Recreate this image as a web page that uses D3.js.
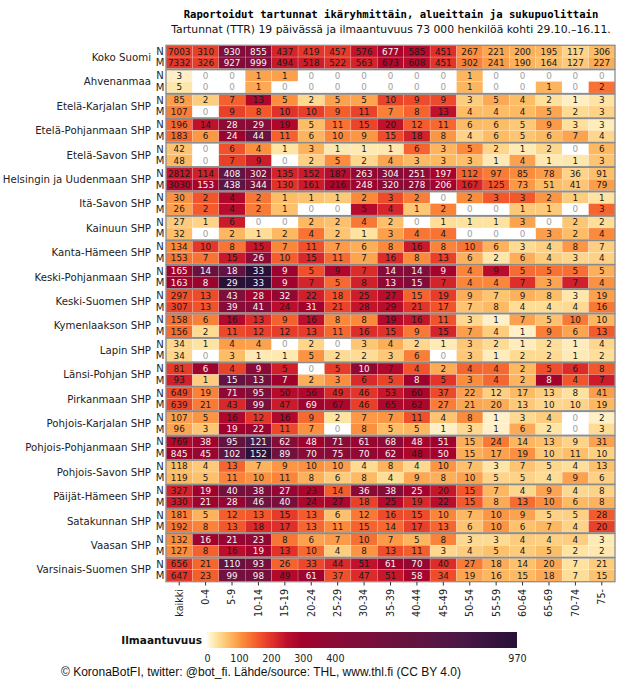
<!DOCTYPE html>
<html><head><meta charset="utf-8">
<script src="https://cdn.jsdelivr.net/npm/d3@7"></script>
<style>body{margin:0;background:#fff}svg{display:block}</style>
</head><body>
<script>
const ageGroups = ["kaikki","0-4","5-9","10-14","15-19","20-24","25-29","30-34","35-39","40-44","45-49","50-54","55-59","60-64","65-69","70-74","75-"];
const regions = ["Koko Suomi","Ahvenanmaa","Etelä-Karjalan SHP","Etelä-Pohjanmaan SHP","Etelä-Savon SHP","Helsingin ja Uudenmaan SHP","Itä-Savon SHP","Kainuun SHP","Kanta-Hämeen SHP","Keski-Pohjanmaan SHP","Keski-Suomen SHP","Kymenlaakson SHP","Lapin SHP","Länsi-Pohjan SHP","Pirkanmaan SHP","Pohjois-Karjalan SHP","Pohjois-Pohjanmaan SHP","Pohjois-Savon SHP","Päijät-Hämeen SHP","Satakunnan SHP","Vaasan SHP","Varsinais-Suomen SHP"];
const sexes = ["N","M"];
// Cases (N = women, M = men), one row per region, columns = ageGroups
const casesN = [
 [7003,310,930,855,437,419,457,576,677,585,451,267,221,200,195,117,306],
 [3,0,0,1,1,0,0,0,0,0,0,1,0,0,0,0,0],
 [85,2,7,13,5,2,5,5,10,9,9,3,5,4,2,1,3],
 [196,14,28,29,19,5,11,15,20,12,11,6,6,5,9,3,3],
 [42,0,6,4,1,3,1,1,1,6,3,5,2,1,2,0,6],
 [2812,114,408,302,135,152,187,263,304,251,197,112,97,85,78,36,91],
 [30,2,4,2,1,1,1,2,3,2,0,2,3,3,2,1,1],
 [27,1,6,0,0,2,2,4,2,0,1,1,1,3,0,2,2],
 [134,10,8,15,7,11,7,6,8,16,8,10,6,3,4,8,7],
 [165,14,18,33,9,5,9,7,14,14,9,4,9,5,5,5,5],
 [297,13,43,28,32,22,18,25,27,15,19,9,7,9,8,3,19],
 [158,6,16,13,9,16,8,8,19,16,11,3,1,7,5,10,10],
 [34,1,4,4,0,2,0,3,4,2,1,3,2,1,2,1,4],
 [81,6,4,9,5,0,5,10,7,4,2,4,4,2,5,6,8],
 [649,19,71,95,50,56,49,46,53,60,37,22,12,17,13,8,41],
 [107,5,16,12,16,9,2,7,7,11,4,8,1,3,4,0,2],
 [769,38,95,121,62,48,71,61,68,48,51,15,24,14,13,9,31],
 [118,4,13,7,9,10,10,4,8,4,10,7,3,7,5,4,13],
 [327,19,40,38,27,23,14,36,38,25,20,15,7,4,9,4,8],
 [181,5,12,13,15,13,6,12,16,15,10,7,10,9,5,5,28],
 [132,16,21,23,8,6,7,10,7,5,8,3,3,4,4,4,3],
 [656,21,110,93,26,33,44,51,61,70,40,27,18,14,20,7,21]
];
const casesM = [
 [7332,326,927,999,494,518,522,563,673,608,451,302,241,190,164,127,227],
 [5,0,0,1,0,0,0,0,0,0,0,1,0,0,1,0,2],
 [107,0,9,8,10,10,9,11,7,8,13,4,4,4,5,2,3],
 [183,6,24,44,11,6,10,9,15,18,8,4,6,5,6,7,4],
 [48,0,7,9,0,2,5,2,4,3,3,3,1,4,1,1,3],
 [3030,153,438,344,130,161,216,248,320,278,206,167,125,73,51,41,79],
 [26,2,4,2,1,0,0,5,4,1,2,0,0,1,1,0,3],
 [32,0,2,1,2,4,2,1,3,4,4,0,0,0,3,2,4],
 [153,7,15,26,10,15,11,7,16,8,13,6,2,6,4,3,4],
 [163,8,29,33,9,7,5,8,13,15,7,4,4,7,3,7,4],
 [307,13,39,41,24,31,21,28,29,21,17,7,8,4,4,4,16],
 [156,2,11,12,12,13,11,16,15,9,15,7,4,1,9,6,13],
 [34,0,3,1,1,5,2,2,3,6,0,3,1,2,2,1,2],
 [93,1,15,13,7,2,3,6,5,8,5,3,4,2,8,4,7],
 [639,21,43,99,47,69,67,46,65,62,27,21,20,13,10,10,19],
 [96,3,19,22,11,7,0,8,5,5,1,3,1,6,2,0,3],
 [845,45,102,152,89,70,75,70,62,48,50,15,17,19,10,11,10],
 [119,5,11,10,11,8,6,8,4,9,8,10,5,5,4,9,6],
 [330,21,28,46,40,24,27,18,25,19,22,15,8,13,10,6,8],
 [192,8,13,18,17,13,11,15,14,17,13,6,10,6,7,4,20],
 [127,8,16,19,13,10,4,8,13,11,3,4,5,4,5,2,2],
 [647,23,99,98,49,61,37,47,51,58,34,19,16,15,18,7,15]
];
// Population of each area (used for incidence = cases per 73 000 persons)
const regionPopulation = [5518000,29900,128800,191800,100500,1690000,41000,72300,170600,77000,251000,166000,117000,61000,531000,163000,412000,246000,210000,217000,169000,481000];
// National population by age group (thousands), women and men
const agePopN = [2807,120,144,149,145,155,172,174,170,161,160,179,183,184,193,188,330];
const agePopM = [2711,125,151,156,153,165,183,186,180,169,165,181,182,176,177,162,200];
const colorTicks = [0,100,200,300,400,970];

const W = 621, H = 680;
const svg = d3.select("body").append("svg").attr("width", W).attr("height", H);

svg.append("text").attr("x", 391).attr("y", 18).attr("text-anchor","middle")
  .attr("font-family","DejaVu Sans Mono").attr("font-weight","bold").attr("font-size",10.6)
  .attr("fill","#000").text("Raportoidut tartunnat ikäryhmittäin, alueittain ja sukupuolittain");
svg.append("text").attr("x", 391).attr("y", 33).attr("text-anchor","middle")
  .attr("font-family","DejaVu Sans").attr("font-size",10.8).attr("fill","#111")
  .text("Tartunnat (TTR) 19 päivässä ja ilmaantuvuus 73 000 henkilöä kohti 29.10.–16.11.");

const x = d3.scaleBand().domain(ageGroups).range([166, 615]);
const yb = d3.scaleBand().domain(regions).range([45, 582]);
const ys = d3.scaleBand().domain(sexes).range([0.6, yb.bandwidth() - 0.8]);

const color = d3.scaleLinear()
  .domain([0, 30, 70, 110, 160, 205, 250, 300, 400, 600, 800, 970])
  .range(["#fffbeb","#fee3a0","#fdbb64","#fb8c3c","#f3582b","#e0302a","#bd0e2c","#a2022c","#8a0b36","#6b1240","#4a1746","#281038"])
  .clamp(true);

const cells = [];
regions.forEach((r, ri) => {
  sexes.forEach(s => {
    const arr = s === "N" ? casesN[ri] : casesM[ri];
    const pops = s === "N" ? agePopN : agePopM;
    ageGroups.forEach((a, ai) => {
      const pop = pops[ai] * 1000 * regionPopulation[ri] / regionPopulation[0];
      const v = arr[ai];
      cells.push({r, s, a, v, inc: v / pop * 73000});
    });
  });
});

const g = svg.append("g");
g.selectAll("rect.cell").data(cells).join("rect").attr("class","cell")
  .attr("x", d => x(d.a)).attr("y", d => yb(d.r) + ys(d.s))
  .attr("width", x.bandwidth()).attr("height", ys.bandwidth())
  .attr("fill", d => d.v === 0 ? "#ffffff" : color(d.inc))
  .attr("stroke", "rgba(255,255,255,0.35)").attr("stroke-width", 0.5);

g.selectAll("text.val").data(cells).join("text").attr("class","val")
  .attr("x", d => x(d.a) + x.bandwidth()/2).attr("y", d => yb(d.r) + ys(d.s) + ys.bandwidth()/2)
  .attr("dy","0.36em").attr("text-anchor","middle")
  .attr("font-family","DejaVu Sans").attr("font-size", 8.8)
  .attr("fill", d => d.v === 0 ? "#a0a0a0" : (d.inc > 285 ? "#f4f4f4" : "#1a1a1a"))
  .text(d => d.v);

// region block borders
g.selectAll("rect.block").data(regions).join("rect").attr("class","block")
  .attr("x", 166).attr("y", d => yb(d) + 0.3)
  .attr("width", 449).attr("height", yb.bandwidth() - 0.6)
  .attr("fill","none").attr("stroke","#8c8c8c").attr("stroke-width",1.3);

// left labels
svg.append("g").selectAll("text").data(regions).join("text")
  .attr("x", 151).attr("y", d => yb(d) + yb.bandwidth()/2).attr("dy","0.36em")
  .attr("text-anchor","end").attr("font-family","DejaVu Sans").attr("font-size",10.2).attr("fill","#222")
  .text(d => d);
const sexLab = [];
regions.forEach(r => sexes.forEach(s => sexLab.push({r, s})));
svg.append("g").selectAll("text").data(sexLab).join("text")
  .attr("x", 160).attr("y", d => yb(d.r) + ys(d.s) + ys.bandwidth()/2).attr("dy","0.36em")
  .attr("text-anchor","middle").attr("font-family","DejaVu Sans").attr("font-size",10).attr("fill","#222")
  .text(d => d.s);

// x axis
const xa = svg.append("g").attr("transform","translate(0,582)")
  .call(d3.axisBottom(x).tickSize(3.5).tickSizeOuter(0));
xa.select(".domain").remove();
xa.selectAll(".tick line").attr("stroke","#333");
xa.selectAll(".tick text").attr("transform","rotate(-90)").attr("text-anchor","end")
  .attr("x", -7).attr("y", 0).attr("dy","0.35em")
  .attr("font-family","DejaVu Sans").attr("font-size",9.6).attr("fill","#222");

// color bar
const cb = d3.scaleLinear().domain([0, 970]).range([207, 517]);
const defs = svg.append("defs");
const grad = defs.append("linearGradient").attr("id","cbg").attr("x1","0%").attr("x2","100%");
d3.range(0, 971, 10).forEach(v => grad.append("stop").attr("offset", (v/970*100) + "%").attr("stop-color", color(v)));
svg.append("rect").attr("x", 207).attr("y", 632).attr("width", 310).attr("height", 16).attr("fill","url(#cbg)");
svg.append("text").attr("x", 202).attr("y", 644).attr("text-anchor","end")
  .attr("font-family","DejaVu Sans").attr("font-weight","bold").attr("font-size",10.5).attr("fill","#111")
  .text("Ilmaantuvuus");
const ca = svg.append("g").attr("transform","translate(0,649)")
  .call(d3.axisBottom(cb).tickValues(colorTicks).tickSize(0).tickFormat(d3.format("d")));
ca.select(".domain").remove();
ca.selectAll(".tick text").attr("y", 6).attr("font-family","DejaVu Sans").attr("font-size",9.6).attr("fill","#222");

svg.append("text").attr("x", 261).attr("y", 676).attr("text-anchor","middle")
  .attr("font-family","Liberation Sans").attr("font-size",12).attr("fill","#111")
  .text("© KoronaBotFI, twitter: @bot_fi. Lähde/source: THL, www.thl.fi (CC BY 4.0)");
</script>
</body></html>
